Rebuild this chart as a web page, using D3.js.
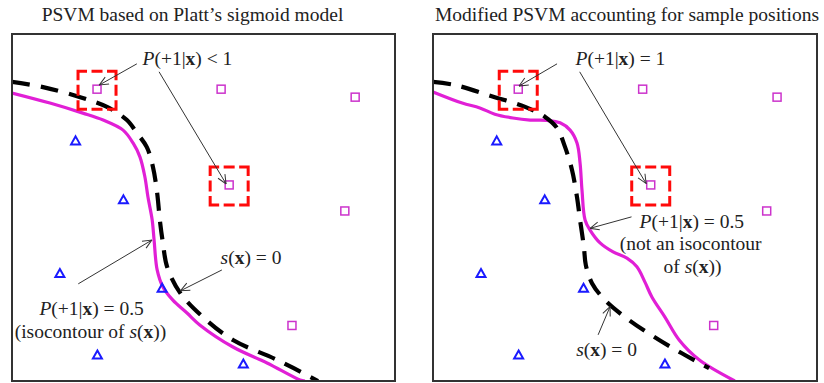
<!DOCTYPE html>
<html>
<head>
<meta charset="utf-8">
<script src="https://cdn.jsdelivr.net/npm/d3@7/dist/d3.min.js"></script>
<style>
  html, body { margin: 0; padding: 0; background: #fff; }
  svg { display: block; }
  text { font-family: "Liberation Serif", "Times New Roman", serif; fill: #222; }
</style>
</head>
<body>
<svg id="chart" width="824" height="383"></svg>
<script>
// ---- Data (feature space, both axes 0..100, y up) ----
const panelTitles = ["PSVM based on Platt\u2019s sigmoid model", "Modified PSVM accounting for sample positions"];

// class +1 samples (squares) and class -1 samples (triangles)
const positiveSamples = [[22.2, 84.1], [54.6, 84.1], [89.6, 81.8], [56.7, 56.5], [86.9, 49.0], [73.1, 16.0]];
const negativeSamples = [[16.6, 69.2], [29.1, 52.2], [12.5, 31.0], [39.2, 26.7], [22.3, 7.5], [60.4, 4.9]];
const highlightedSamples = [0, 3];

// decision boundary s(x) = 0
const boundaryPlatt = [[0, 86.2], [8.1, 84.7], [17.8, 81.8], [24.8, 79.0], [30.0, 75.2], [32.6, 71.5], [35.2, 67.4],
  [36.8, 61.7], [37.9, 54.2], [38.6, 46.4], [39.4, 39.8], [40.5, 32.9], [43.9, 25.4], [49.9, 18.4], [57.7, 11.8],
  [69.2, 6.1], [79.9, 0]];
const boundaryModified = [[0, 86.2], [5.7, 85.3], [16.1, 81.8], [24.0, 79.0], [29.2, 76.1], [32.3, 72.9], [34.4, 67.4],
  [36.2, 60.8], [37.5, 53.0], [38.3, 46.4], [39.3, 38.6], [39.8, 33.4], [41.4, 28.2], [44.8, 23.3], [51.0, 17.6],
  [58.9, 11.8], [65.6, 7.5], [71.9, 3.7]];

// P(+1|x) = 0.5 contour
const halfPlatt = [[0, 83.0], [9.9, 80.1], [18.5, 77.2], [23.8, 75.2], [29.0, 72.3], [31.6, 68.6], [33.4, 64.6],
  [34.7, 58.8], [35.5, 53.0], [36.6, 46.4], [37.1, 40.6], [37.9, 32.0], [39.4, 27.1], [42.0, 23.3], [45.7, 19.6],
  [49.1, 16.1], [57.7, 9.8], [66.6, 5.2], [75.2, 0.3], [76.5, 0]];
const halfModified = [[0, 83.3], [7.6, 80.1], [12.2, 78.7], [16.1, 76.9], [20.8, 75.8], [25.3, 75.2], [29.7, 75.1],
  [33.1, 74.4], [35.7, 72.3], [37.5, 68.6], [38.3, 62.8], [38.8, 55.0], [39.6, 46.4], [40.9, 43.5], [43.5, 39.8],
  [46.9, 37.2], [50.5, 35.4], [53.1, 32.9], [55.2, 28.5], [57.0, 24.2], [60.4, 18.4], [64.1, 11.8], [69.3, 6.1],
  [78.6, 0]];

// annotations: label lines and arrows [from, to]
const labelsPlatt = [
  { parts: [["P", "i"], ["(+1|", ""], ["x", "b"], [") < 1", ""]], at: [45.8, 91.1] },
  { parts: [["s", "i"], ["(", ""], ["x", "b"], [") = 0", ""]], at: [62.4, 33.7] },
  { parts: [["P", "i"], ["(+1|", ""], ["x", "b"], [") = 0.5", ""]], at: [20.8, 19.0] },
  { parts: [["(isocontour of ", ""], ["s", "i"], ["(", ""], ["x", "b"], ["))", ""]], at: [20.5, 12.4] }
];
const arrowsPlatt = [
  [[32.6, 91.4], [22.8, 85.3]],
  [[38.4, 89.1], [55.9, 56.8]],
  [[17.3, 28.0], [36.5, 40.6]],
  [[54.8, 32.0], [44.0, 26.0]]
];
const labelsModified = [
  { parts: [["P", "i"], ["(+1|", ""], ["x", "b"], [") = 1", ""]], at: [48.8, 91.1] },
  { parts: [["P", "i"], ["(+1|", ""], ["x", "b"], [") = 0.5", ""]], at: [67.4, 44.0] },
  { parts: [["(not an isocontour", ""]], at: [67.1, 37.8] },
  { parts: [["of ", ""], ["s", "i"], ["(", ""], ["x", "b"], ["))", ""]], at: [67.6, 31.2] },
  { parts: [["s", "i"], ["(", ""], ["x", "b"], [") = 0", ""]], at: [45.2, 7.2] }
];
const arrowsModified = [
  [[32.3, 91.4], [22.4, 85.0]],
  [[38.2, 89.1], [55.5, 56.9]],
  [[51.7, 47.3], [40.9, 44.0]],
  [[43.0, 13.3], [46.1, 21.4]]
];

// ---- Drawing ----
const svg = d3.select("#chart");
const defs = svg.append("defs");
defs.append("marker")
  .attr("id", "arrowhead")
  .attr("viewBox", "0 0 10 10")
  .attr("refX", 9.5).attr("refY", 5)
  .attr("markerWidth", 10).attr("markerHeight", 10)
  .attr("markerUnits", "userSpaceOnUse")
  .attr("orient", "auto")
  .append("path")
  .attr("d", "M0.5,1 L9.5,5 L0.5,9")
  .attr("fill", "none").attr("stroke", "#333").attr("stroke-width", 1);

const panels = [
  { title: panelTitles[0], left: 12, right: 395, titleShift: -11, boundary: boundaryPlatt, half: halfPlatt,
    labels: labelsPlatt, arrows: arrowsPlatt },
  { title: panelTitles[1], left: 433, right: 817, titleShift: 2, boundary: boundaryModified, half: halfModified,
    labels: labelsModified, arrows: arrowsModified }
];
const frameTop = 34, frameBottom = 381;
const fontSize = "19.5px";

panels.forEach((p, i) => {
  const x = d3.scaleLinear().domain([0, 100]).range([p.left, p.right]);
  const y = d3.scaleLinear().domain([0, 100]).range([frameBottom, frameTop]);
  const g = svg.append("g");

  g.append("text")
    .attr("x", (p.left + p.right) / 2 + p.titleShift).attr("y", 21)
    .attr("text-anchor", "middle")
    .style("font-size", fontSize)
    .text(p.title);

  defs.append("clipPath").attr("id", "clip" + i)
    .append("rect").attr("x", p.left).attr("y", frameTop)
    .attr("width", p.right - p.left).attr("height", frameBottom - frameTop);

  const plot = g.append("g").attr("clip-path", `url(#clip${i})`);
  const line = d3.line().x(d => x(d[0])).y(d => y(d[1])).curve(d3.curveCatmullRom.alpha(0.5));

  plot.append("path").datum(p.half)
    .attr("d", line).attr("fill", "none")
    .attr("stroke", "#e11fd6").attr("stroke-width", 3.2);

  plot.append("path").datum(p.boundary)
    .attr("d", line).attr("fill", "none")
    .attr("stroke", "#000").attr("stroke-width", 4.2)
    .attr("stroke-dasharray", "18,11");

  // highlighted samples: dashed square with a dash centred on every corner
  g.selectAll(".hl").data(highlightedSamples.map(k => positiveSamples[k])).enter()
    .append("rect")
    .attr("x", d => x(d[0]) - 19).attr("y", d => y(d[1]) - 18)
    .attr("width", 38).attr("height", 38)
    .attr("fill", "none").attr("stroke", "#ff0a0a").attr("stroke-width", 3)
    .attr("stroke-dasharray", "18,4.5,11,4.5").attr("stroke-dashoffset", 9);

  g.selectAll(".pos").data(positiveSamples).enter()
    .append("rect")
    .attr("x", d => x(d[0]) - 4).attr("y", d => y(d[1]) - 4)
    .attr("width", 8).attr("height", 8)
    .attr("fill", "none").attr("stroke", "#cc33cc").attr("stroke-width", 1.5);

  g.selectAll(".neg").data(negativeSamples).enter()
    .append("path")
    .attr("transform", d => `translate(${x(d[0])},${y(d[1])})`)
    .attr("d", "M0,-4.5 L4.5,3.5 L-4.5,3.5 Z")
    .attr("fill", "none").attr("stroke", "#1a1aff").attr("stroke-width", 2)
    .attr("stroke-linejoin", "miter");

  g.selectAll(".arrow").data(p.arrows).enter()
    .append("line")
    .attr("x1", d => x(d[0][0])).attr("y1", d => y(d[0][1]))
    .attr("x2", d => x(d[1][0])).attr("y2", d => y(d[1][1]))
    .attr("stroke", "#333").attr("stroke-width", 1)
    .attr("marker-end", "url(#arrowhead)");

  p.labels.forEach(lab => {
    const t = g.append("text")
      .attr("x", x(lab.at[0])).attr("y", y(lab.at[1]))
      .attr("text-anchor", "middle")
      .style("font-size", fontSize);
    lab.parts.forEach(([s, st]) => {
      t.append("tspan").text(s)
        .style("font-style", st === "i" ? "italic" : "normal")
        .style("font-weight", st === "b" ? "bold" : "normal");
    });
  });

  g.append("rect")
    .attr("x", p.left).attr("y", frameTop)
    .attr("width", p.right - p.left).attr("height", frameBottom - frameTop)
    .attr("fill", "none").attr("stroke", "#333").attr("stroke-width", 2);
});
</script>
</body>
</html>
